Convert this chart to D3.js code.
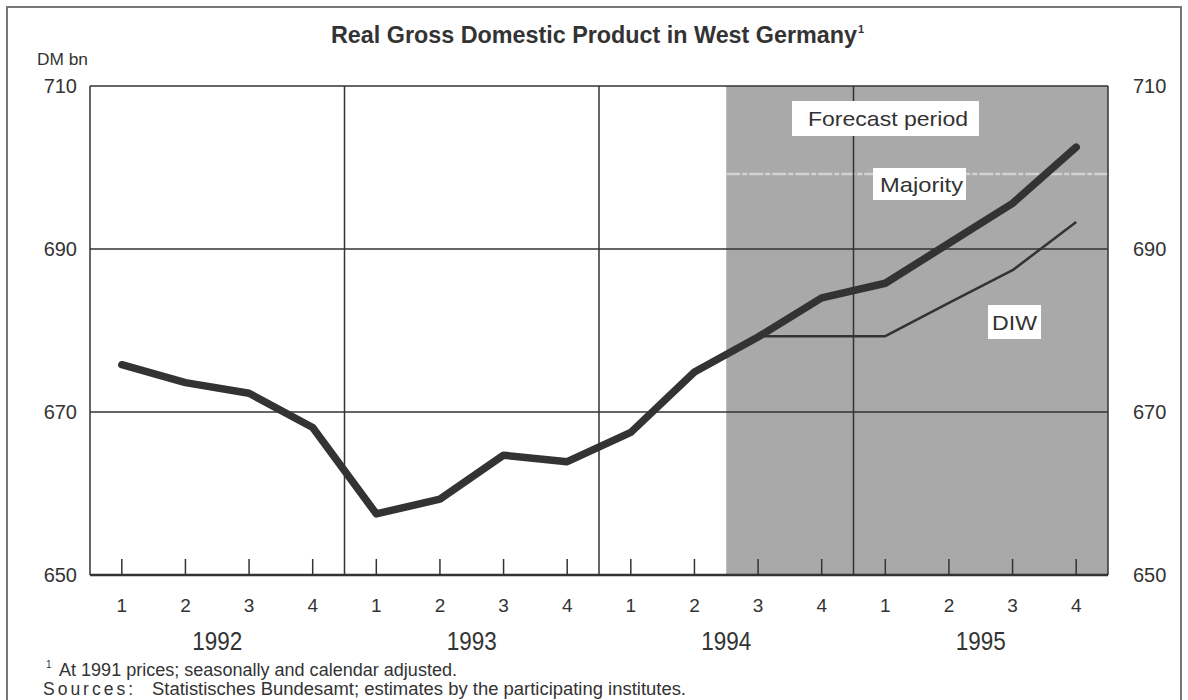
<!DOCTYPE html>
<html><head><meta charset="utf-8">
<script src="https://cdn.jsdelivr.net/npm/d3@7"></script>
<style>body{margin:0;background:#fff}svg{display:block}text{font-family:"Liberation Sans",Arial,sans-serif;fill:#333}</style>
</head><body><svg id="c" width="1188" height="700"></svg>
<script>
const years = ["1992","1993","1994","1995"];
const quarters = ["1","2","3","4"];
const periods = years.flatMap(y => quarters.map(q => y + "Q" + q));
const majority = [675.8,673.6,672.3,668.1,657.5,659.3,664.7,663.9,667.5,674.9,679.2,684.0,685.8,690.7,695.6,702.5];
const diwPeriods = ["1994Q3","1994Q4","1995Q1","1995Q2","1995Q3","1995Q4"];
const diw = [679.3,679.3,679.3,683.4,687.4,693.3];
const yTicks = [650,670,690,710];
const forecastStart = "1994Q3";

const svg = d3.select("#c");
const L=90,R=1108,T=86,B=575;
const x = d3.scaleBand().domain(periods).range([L,R]);
const xc = p => x(p)+x.bandwidth()/2;
const y = d3.scaleLinear().domain([650,710]).range([B,T]);
const ink="#333";

// outer frame
svg.append("rect").attr("x",7).attr("y",7).attr("width",1174).attr("height",720)
  .attr("fill","none").attr("stroke","#777").attr("stroke-width",2);

// forecast shading
svg.append("rect").attr("x",x(forecastStart)).attr("y",T).attr("width",R-x(forecastStart)).attr("height",B-T)
  .attr("fill","#a9a9a9");
// faint light scan line
svg.append("line").attr("x1",x(forecastStart)).attr("x2",R).attr("y1",y(699.2)).attr("y2",y(699.2))
  .attr("stroke","#d2d2d2").attr("stroke-width",2.5).attr("stroke-dasharray","14,2,5,2");

// horizontal grid
svg.append("g").selectAll("line").data(yTicks).join("line")
  .attr("x1",L).attr("x2",R).attr("y1",d=>y(d)).attr("y2",d=>y(d))
  .attr("stroke",ink).attr("stroke-width",d=>d===650?2.5:1.5);
// vertical year separators
svg.append("g").selectAll("line").data(years.slice(1)).join("line")
  .attr("x1",d=>x(d+"Q1")).attr("x2",d=>x(d+"Q1")).attr("y1",T).attr("y2",B)
  .attr("stroke",ink).attr("stroke-width",1.5);
// left/right border
svg.append("line").attr("x1",L).attr("x2",L).attr("y1",T).attr("y2",B).attr("stroke",ink).attr("stroke-width",1.5);
svg.append("line").attr("x1",R).attr("x2",R).attr("y1",T).attr("y2",B).attr("stroke",ink).attr("stroke-width",1.5);
// quarter ticks
svg.append("g").selectAll("line").data(periods).join("line")
  .attr("x1",d=>xc(d)).attr("x2",d=>xc(d)).attr("y1",B).attr("y2",B-16)
  .attr("stroke",ink).attr("stroke-width",1.5);

// y labels
svg.append("g").selectAll("text").data(yTicks).join("text")
  .attr("x",77).attr("y",d=>y(d)+7).attr("text-anchor","end").attr("font-size",20).text(d=>d);
svg.append("g").selectAll("text").data(yTicks).join("text")
  .attr("x",1133).attr("y",d=>y(d)+7).attr("text-anchor","start").attr("font-size",20).text(d=>d);
svg.append("text").attr("x",37).attr("y",65).attr("font-size",16.5).attr("textLength",51).attr("lengthAdjust","spacingAndGlyphs").text("DM bn");

// x labels
svg.append("g").selectAll("text").data(periods).join("text")
  .attr("x",d=>xc(d)).attr("y",612).attr("text-anchor","middle").attr("font-size",19).text(d=>d.slice(-1));
svg.append("g").selectAll("text").data(years).join("text")
  .attr("x",d=>(xc(d+"Q2")+xc(d+"Q3"))/2 - 25).attr("y",650).attr("font-size",26)
  .attr("textLength",50).attr("lengthAdjust","spacingAndGlyphs").text(d=>d);

// lines
const line = d3.line().x(d=>xc(d[0])).y(d=>y(d[1]));
svg.append("path").datum(diwPeriods.map((p,i)=>[p,diw[i]])).attr("d",line)
  .attr("fill","none").attr("stroke",ink).attr("stroke-width",2.5).attr("stroke-linejoin","round");
svg.append("path").datum(periods.map((p,i)=>[p,majority[i]])).attr("d",line)
  .attr("fill","none").attr("stroke",ink).attr("stroke-width",7.5).attr("stroke-linejoin","round").attr("stroke-linecap","round");

// labels with white boxes
function boxLabel(txt,bx,by,bw,bh,tx,tl,fs){
  svg.append("rect").attr("x",bx).attr("y",by).attr("width",bw).attr("height",bh).attr("fill","#fff");
  svg.append("text").attr("x",tx).attr("y",by+bh/2+fs*0.36).attr("font-size",fs)
    .attr("textLength",tl).attr("lengthAdjust","spacingAndGlyphs").text(txt);
}
boxLabel("Forecast period",792,101,187,35,808,160,21);
boxLabel("Majority",873,168,93,32,880,83,21);
boxLabel("DIW",988,305,53,34,992,45,21);

// title
const t = svg.append("text").attr("x",331).attr("y",43).attr("font-size",23).attr("font-weight","bold");
t.append("tspan").attr("textLength",526).attr("lengthAdjust","spacingAndGlyphs").text("Real Gross Domestic Product in West Germany");
t.append("tspan").attr("font-size",11).attr("dy",-10).attr("dx",1).text("1");

// footnotes
const f = svg.append("text").attr("x",46).attr("y",676).attr("font-size",17.5);
f.append("tspan").attr("font-size",10).attr("dy",-8).text("1");
f.append("tspan").attr("x",59).attr("dy",8).attr("textLength",398).attr("lengthAdjust","spacingAndGlyphs").text("At 1991 prices; seasonally and calendar adjusted.");
const s = svg.append("text").attr("x",43).attr("y",695).attr("font-size",17.5);
s.append("tspan").attr("textLength",90).attr("lengthAdjust","spacing").text("Sources:");
s.append("tspan").attr("x",152).attr("textLength",534).attr("lengthAdjust","spacingAndGlyphs").text("Statistisches Bundesamt; estimates by the participating institutes.");
</script></body></html>
